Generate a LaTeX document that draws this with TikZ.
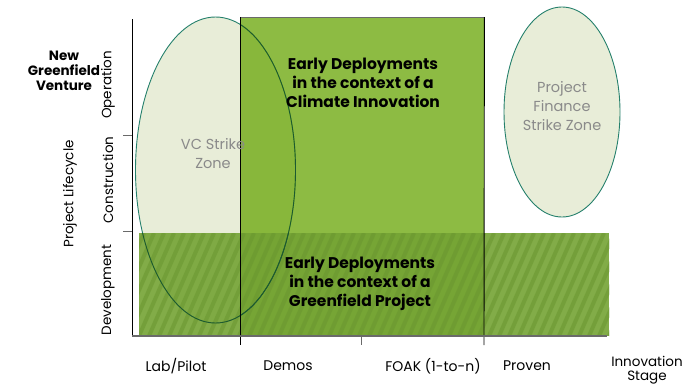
\documentclass[tikz,border=0pt]{standalone}
\usepackage{fontspec}
\setmainfont{Poppins}
\usetikzlibrary{positioning,shapes.geometric}

\definecolor{rectgreen}{HTML}{70AA14}
\definecolor{bandgreen}{HTML}{74A334}
\definecolor{stripegreen}{HTML}{6A9630}
\definecolor{zonefill}{HTML}{E8EDD8}
\definecolor{zoneline}{HTML}{25806C}
\definecolor{zonedark}{HTML}{1C5A30}
\definecolor{zonetext}{HTML}{8A8A8A}
\definecolor{axisgray}{HTML}{6A6A6A}

\begin{document}
\begin{tikzpicture}[x=1pt,y=-1pt,
    zone/.style={ellipse, fill=zonefill, inner sep=0pt},
    zonelabel/.style={text=zonetext, font=\fontsize{14.5}{19}\selectfont, align=center},
    boldlabel/.style={font=\bfseries\fontsize{15.5}{19}\selectfont, align=center},
    axislabel/.style={font=\fontsize{14}{15}\selectfont, align=center},
    stagelabel/.style={font=\fontsize{13.5}{15}\selectfont, rotate=90},
    tick/.style={axisgray, line width=1pt},
]
    \useasboundingbox (0,0) rectangle (687,389);

    % strike zones
    \node[zone, minimum width=160pt, minimum height=306pt] (vc) at (215.5,170) {};
    \node[zone, minimum width=116pt, minimum height=210pt] (pf) at (562,112) {};
    \draw[zoneline, line width=0.9pt] (vc.center) ellipse [x radius=80, y radius=153];
    \draw[zoneline, line width=0.9pt] (pf.center) ellipse [x radius=58, y radius=105];

    % climate innovation block
    \node[fill=rectgreen, fill opacity=0.8, inner sep=0pt, anchor=north west,
          minimum width=244pt, minimum height=319pt] (climate) at (240,17) {};

    % greenfield project band
    \node[fill=bandgreen, fill opacity=0.9, inner sep=0pt, anchor=north west,
          minimum width=470pt, minimum height=103pt] (project) at (139,233) {};
    \begin{scope}
        \clip (project.north west) rectangle (project.south east);
        \foreach \x in {-60,-50,...,480}
            \draw[stripegreen, line width=4pt, opacity=0.55] (\x+139,336) -- ++(45,-103);
    \end{scope}

    % VC outline seen through the green
    \begin{scope}
        \clip (climate.north west) rectangle (climate.south east);
        \draw[zonedark, line width=0.9pt] (vc.center) ellipse [x radius=80, y radius=153];
    \end{scope}
    \begin{scope}
        \clip (project.north west) rectangle (project.south east);
        \draw[zonedark, line width=0.9pt] (vc.center) ellipse [x radius=80, y radius=153];
    \end{scope}

    % block borders
    \coordinate (climate foot) at (240,345);
    \coordinate (proven foot) at (484,345);
    \draw[axisgray, line width=0.8pt] (climate.north west) -- (climate.north east);
    \draw[black, line width=0.9pt] (climate.north west) -- (climate foot);
    \draw[black, line width=0.9pt] (climate.north east) -- (proven foot);

    % axes
    \coordinate (origin) at (132,336);
    \coordinate (ytop) at (132,19);
    \coordinate (xend) at (607,336);
    \draw[black, line width=1pt] (ytop) -- (origin);
    \draw[axisgray, line width=1.5pt] (origin) -- (xend);
    \draw[tick] (123,135) -- (132,135);
    \draw[tick] (123,231) -- (132,231);
    \draw[tick] (361,336) -- (361,345);

    % texts
    \node[boldlabel] (climate text) at (363,83) {Early Deployments\\in the context of a\\Climate Innovation};
    \node[boldlabel] (project text) at (360,284) {Early Deployments\\in the context of a\\Greenfield Project};
    \node[zonelabel] (vc text) at (213,154) {VC Strike\\Zone};
    \node[zonelabel] (pf text) at (562,106) {Project\\Finance\\Strike Zone};

    \node[font=\bfseries\fontsize{13.5}{15}\selectfont, align=center] (venture) at (64,71) {New\\Greenfield\\Venture};
    \node[stagelabel] (operation) at (108,85) {Operation};
    \node[stagelabel] (construction) at (108,180) {Construction};
    \node[stagelabel] (development) at (108,290) {Development};
    \node[stagelabel] (lifecycle) at (70,194) {Project Lifecycle};

    \node[axislabel] (lab) at (176,366) {Lab/Pilot};
    \node[axislabel] (demos) at (288,366) {Demos};
    \node[axislabel] (foak) at (433,366) {FOAK (1-to-n)};
    \node[axislabel] (proven) at (527,366) {Proven};
    \node[axislabel, font=\fontsize{13.5}{14}\selectfont] (stage) at (647,370) {Innovation\\Stage};
\end{tikzpicture}
\end{document}
